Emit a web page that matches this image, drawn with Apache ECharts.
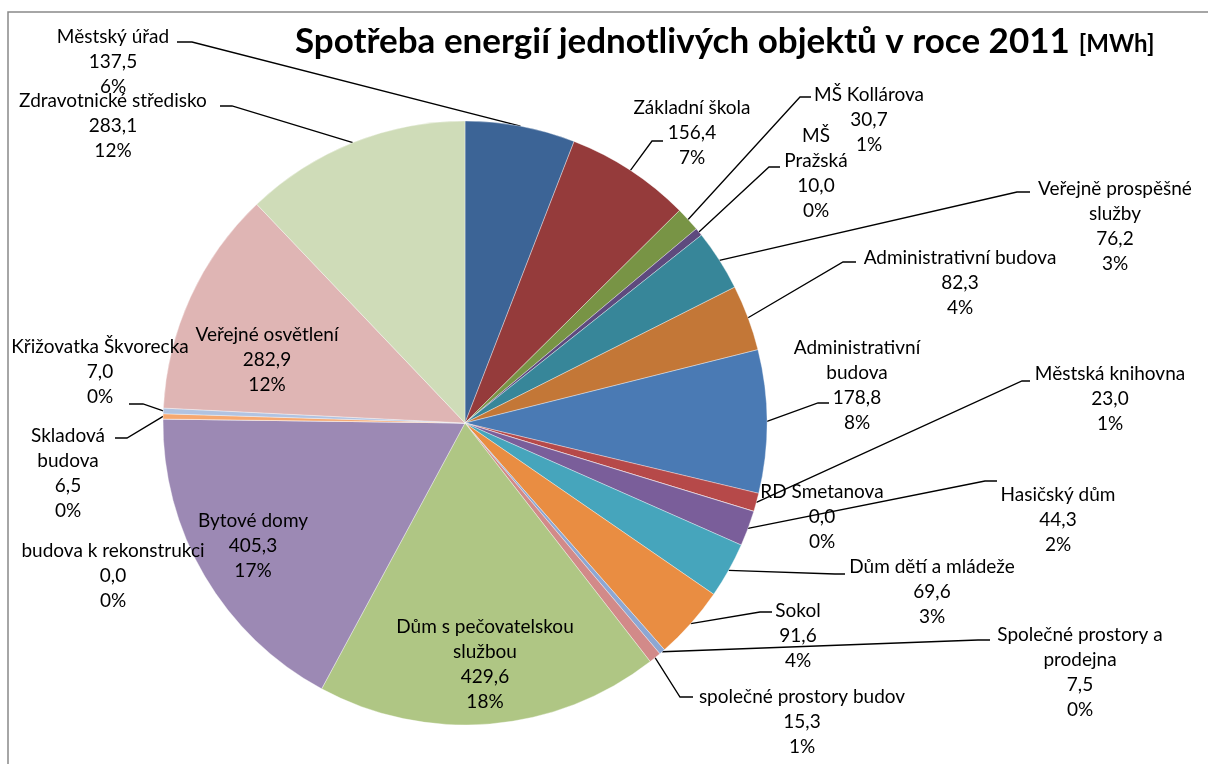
<!DOCTYPE html>
<html><head><meta charset="utf-8">
<script src="https://cdn.jsdelivr.net/npm/echarts@6/dist/echarts.min.js"></script>
<style>html,body{margin:0;padding:0;background:#fff}#c{width:1208px;height:764px}</style>
</head><body><div id="c"></div>
<script>
// ---- data ----
const names = [
  'Městský úřad', 'Základní škola', 'MŠ Kollárova', 'MŠ Pražská',
  'Veřejně prospěšné služby', 'Administrativní budova', 'Administrativní budova',
  'Městská knihovna', 'RD Smetanova', 'Hasičský dům', 'Dům dětí a mládeže', 'Sokol',
  'Společné prostory a prodejna', 'společné prostory budov', 'Dům s pečovatelskou službou',
  'Bytové domy', 'budova k rekonstrukci', 'Skladová budova', 'Křižovatka Škvorecka',
  'Veřejné osvětlení', 'Zdravotnické středisko'
];
const values = [
  137.5, 156.4, 30.7, 10.0, 76.2, 82.3, 178.8, 23.0, 0.0, 44.3, 69.6, 91.6,
  7.5, 15.3, 429.6, 405.3, 0.0, 6.5, 7.0, 282.9, 283.1
];
const colors = [
  '#3C6496', '#953B3B', '#789445', '#5E4A7E', '#378699', '#C37737', '#4A7AB4',
  '#B64949', '#94B355', '#7A5E9A', '#46A5BC', '#E98D42', '#8DA7D3', '#D28A89',
  '#AFC684', '#9C89B4', '#8CC3D5', '#F6A870', '#B1C3E1', '#DFB5B4', '#CFDCB8'
];
const titleMain = 'Spotřeba energií jednotlivých objektů v roce 2011';
const titleUnit = '[MWh]';

// ---- label layout (positions only) ----
const spots = [
  {x:113, y:62,  bend:[192,42],  end:[177,42]},
  {x:692, y:133, bend:[652,141], end:[663,141]},
  {x:869, y:120, bend:[800,97],  end:[811,97]},
  {x:816, y:173, bend:[769,167], end:[780,167], wrap:1},
  {x:1115,y:226, bend:[1017,192],end:[1030,192], wrap:2},
  {x:960, y:283, bend:[843,262], end:[856,262]},
  {x:857, y:385, bend:[818,403], end:[829,403], wrap:1},
  {x:1110,y:399, bend:[1022,381],end:[1030,381]},
  {x:822, y:517},
  {x:1058,y:520, bend:[985,481], end:[997,481]},
  {x:932, y:592, bend:[835,574], end:[845,574]},
  {x:798, y:636, bend:[760,612], end:[772,612]},
  {x:1080,y:672, bend:[978,640], end:[990,640], wrap:3},
  {x:802, y:722, bend:[680,697], end:[693,697]},
  {x:485, y:664, wrap:3},
  {x:253, y:546},
  {x:113, y:576},
  {x:68,  y:473, bend:[127,438], end:[115,438], wrap:1},
  {x:100, y:372, bend:[143,404], end:[129,404]},
  {x:267, y:360},
  {x:113, y:126, bend:[232,106], end:[220,106]}
];

const FONT = 'Lato';
const CX = 465, CY = 423, R = 302;
const total = values.reduce((a, b) => a + b, 0);
const cum = [];
values.reduce((acc, v, i) => { cum[i] = acc; return acc + v; }, 0);

const chart = echarts.init(document.getElementById('c'), null, {renderer: 'canvas'});
const data = names.map((n, i) => ({
  name: n,
  value: values[i],
  itemStyle: {color: colors[i]},
  labelLine: {show: !!spots[i].end}
}));

chart.setOption({
  animation: false,
  backgroundColor: '#fff',
  title: {
    text: '{a|' + titleMain + '} {b|' + titleUnit + '}',
    left: 290, top: 19,
    textStyle: {
      rich: {
        a: {fontFamily: FONT, fontSize: 35, fontWeight: 'bold', color: '#000'},
        b: {fontFamily: FONT, fontSize: 24, fontWeight: 'bold', color: '#000', padding: [5, 0, 0, 4]}
      }
    }
  },
  graphic: [{
    type: 'rect', silent: true, z: -1,
    shape: {x: 8, y: 12, width: 1300, height: 900},
    style: {fill: null, stroke: '#898989', lineWidth: 1.5}
  }],
  series: [{
    type: 'pie',
    center: [CX, CY],
    radius: R,
    startAngle: 90,
    clockwise: true,
    avoidLabelOverlap: false,
    stillShowZeroSum: true,
    minAngle: 0,
    itemStyle: {borderWidth: 0.6, borderColor: 'rgba(255,255,255,0.6)'},
    label: {
      show: true,
      position: 'outside',
      color: '#000',
      fontFamily: FONT,
      fontSize: 19,
      lineHeight: 25,
      align: 'center',
      formatter: p => {
        const s = spots[p.dataIndex];
        let nm = p.name;
        if (s.wrap) {
          const w = nm.split(' ');
          nm = w.slice(0, s.wrap).join(' ') + '\n' + w.slice(s.wrap).join(' ');
        }
        return nm + '\n' + p.value.toFixed(1).replace('.', ',') + '\n' +
          Math.round(p.value / total * 100) + '%';
      }
    },
    labelLine: {show: true, length: 10, length2: 10, lineStyle: {color: '#000', width: 1.3}},
    labelLayout: p => {
      const i = p.dataIndex;
      const s = spots[i];
      const res = {x: s.x, y: s.y, align: 'center', verticalAlign: 'middle'};
      if (s.end) {
        let p0;
        if (p.labelLinePoints && p.labelLinePoints[0]) {
          p0 = p.labelLinePoints[0];
        } else {
          const a = (cum[i] + values[i] / 2) / total * 2 * Math.PI;
          p0 = [CX + R * Math.sin(a), CY - R * Math.cos(a)];
        }
        res.labelLinePoints = [p0, s.bend, s.end];
      }
      return res;
    },
    data: data
  }]
});
</script>
</body></html>
